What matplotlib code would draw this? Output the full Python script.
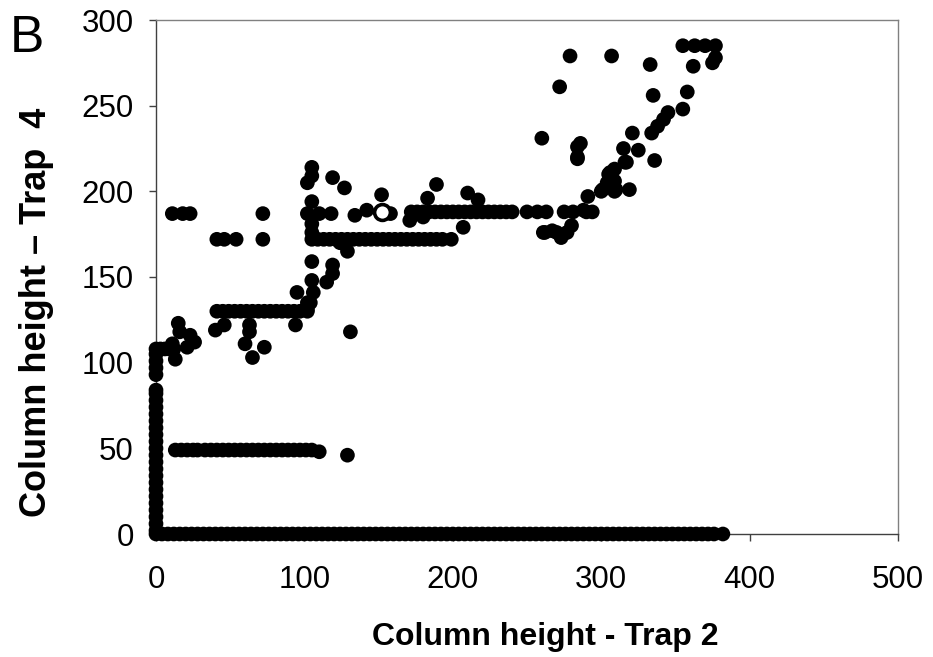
import matplotlib
matplotlib.use("Agg")
import matplotlib.pyplot as plt

plt.rcParams['font.family'] = ['Liberation Sans', 'DejaVu Sans']

# --- Data (Trap 2 = x, Trap 4 = y) ---
# Baseline row: Trap 4 = 0
base_x = [0, 4, 8, 12, 16, 20, 24, 28, 32, 36, 40, 44, 48, 52, 56, 60, 64, 68, 72, 76,
          80, 84, 88, 92, 96, 100, 104, 108, 112, 116, 120, 124, 128, 132, 136, 140, 144,
          148, 152, 156, 160, 164, 168, 172, 176, 180, 184, 188, 192, 196, 200, 204, 208,
          212, 216, 220, 224, 228, 232, 236, 240, 244, 248, 252, 256, 260, 264, 268, 272,
          276, 280, 284, 288, 292, 296, 300, 304, 308, 312, 316, 320, 324, 328, 332, 336,
          340, 344, 348, 352, 356, 360, 364, 368, 372, 376, 382]
base_y = [0] * len(base_x)

# Column at Trap 2 = 0
col_y = [2, 6, 10, 14, 18, 22, 26, 30, 34, 38, 42, 46, 50, 54, 58, 62, 66, 70, 74, 78,
         82, 84, 93, 97, 101, 105, 108]
col_x = [0] * len(col_y)

# Row near Trap 4 = 49
row49_x = [13, 17, 21, 25, 28, 33, 37, 41, 45, 49, 53, 57, 61, 65, 69, 73, 77, 81, 85,
           89, 93, 97, 101, 105, 110, 129]
row49_y = [49, 49, 49, 49, 49, 49, 49, 49, 49, 49, 49, 49, 49, 49, 49, 49, 49, 49, 49,
           49, 49, 49, 49, 49, 48, 46]

# Row near Trap 4 = 130
row130_x = [41, 45, 49, 53, 57, 61, 65, 69, 73, 77, 81, 85, 89, 93, 97, 102]
row130_y = [130] * len(row130_x)

# Row near Trap 4 = 172
row172_x = [41, 46, 54, 72, 105, 109, 113, 117, 121, 125, 129, 133, 137, 141, 145, 149,
            153, 157, 161, 165, 169, 173, 177, 181, 185, 189, 193, 199]
row172_y = [172] * len(row172_x)

# Row near Trap 4 = 187
row187_x = [11, 18, 23, 72, 102, 110, 118, 158, 172, 176, 180, 184, 188, 192, 196, 200,
            204, 208, 212, 216, 220, 224, 228, 232, 236, 240, 250, 257, 263, 275, 281,
            288, 290, 294]
row187_y = [187, 187, 187, 187, 187, 187, 187, 187, 188, 188, 188, 188, 188, 188, 188,
            188, 188, 188, 188, 188, 188, 188, 188, 188, 188, 188, 188, 188, 188, 188, 188,
            189, 188, 188]

# Scattered points
scat_x = [3, 6, 9, 12, 11, 13, 15, 16, 21, 23, 26, 40, 46, 60, 63, 63, 65, 73, 94, 131,
          104, 105, 105, 102, 105, 105, 105, 119, 127, 134, 142, 152, 129, 124, 105, 119,
          119, 115, 105, 95, 106, 102, 102, 284, 316, 306, 309, 301, 310, 319, 291, 189,
          183, 171, 180, 210, 217, 207, 261, 273, 280, 267, 279, 307, 272, 333, 355, 363,
          370, 377, 375, 377, 362, 358, 355, 345, 342, 338, 334, 335, 321, 260, 286, 284,
          284, 315, 325, 317, 336, 309, 305, 304, 300, 309, 262, 270, 277]
scat_y = [108, 108, 108, 108, 111, 102, 123, 118, 109, 116, 112, 119, 122, 111, 122, 118,
          103, 109, 122, 118, 135, 214, 209, 205, 194, 181, 176, 208, 202, 186, 189, 198,
          165, 170, 159, 157, 152, 147, 148, 141, 141, 135, 131, 220, 217, 211, 206, 201,
          201, 201, 197, 204, 196, 183, 185, 199, 195, 179, 176, 173, 180, 177, 279, 279,
          261, 274, 285, 285, 285, 285, 275, 278, 273, 258, 248, 246, 242, 238, 234, 256,
          234, 231, 228, 226, 219, 225, 224, 217, 218, 213, 210, 205, 200, 200, 176, 176,
          176]

# Highlighted (open) point
open_x = [152]
open_y = [188]

x_ticks = [0, 100, 200, 300, 400, 500]
y_ticks = [0, 50, 100, 150, 200, 250, 300]

# --- Figure ---
fig = plt.figure(figsize=(9.33, 6.57), dpi=100)
ax = fig.add_axes([156 / 933, 1 - 534 / 657, (898 - 156) / 933, (534 - 20) / 657])

all_x = base_x + col_x + row49_x + row130_x + row172_x + row187_x + scat_x
all_y = base_y + col_y + row49_y + row130_y + row172_y + row187_y + scat_y
ax.scatter(all_x, all_y, s=112, c='black', edgecolors='none', clip_on=False, zorder=3)
ax.scatter(open_x, open_y, s=130, c='white', edgecolors='black', linewidths=2.6,
           clip_on=False, zorder=4)

ax.set_xlim(0, 500)
ax.set_ylim(0, 300)
ax.set_xticks(x_ticks)
ax.set_yticks(y_ticks)
ax.tick_params(direction='out', length=5, width=1, color='#404040',
               labelsize=22.5, labelcolor='black')
ax.tick_params(axis='x', pad=17)
ax.tick_params(axis='y', pad=11)
for side in ['left', 'bottom']:
    ax.spines[side].set_color('#404040')
    ax.spines[side].set_linewidth(1)
for side in ['top', 'right']:
    ax.spines[side].set_color('#808080')
    ax.spines[side].set_linewidth(1)

fig.text(545 / 933, 1 - 645 / 657, 'Column height - Trap 2', ha='center', va='baseline',
         fontsize=23, fontweight='bold')
fig.text(46 / 933, 1 - 312 / 657, 'Column height \u2013 Trap  4', ha='center',
         va='baseline', rotation=90, fontsize=26, fontweight='bold',
         rotation_mode='anchor')
fig.text(10 / 933, 1 - 52 / 657, 'B', ha='left', va='baseline', fontsize=37)

fig.savefig('out.png', dpi=100, facecolor='white')
